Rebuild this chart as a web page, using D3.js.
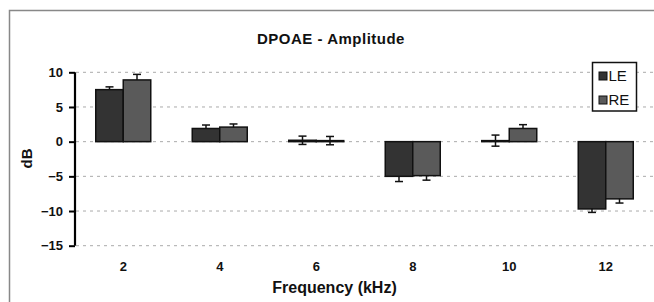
<!DOCTYPE html>
<html>
<head>
<meta charset="utf-8">
<script src="https://cdn.jsdelivr.net/npm/d3@7"></script>
<style>
  html, body { margin: 0; padding: 0; background: #fff; }
  svg { display: block; font-family: "Liberation Sans", Arial, sans-serif; }
</style>
</head>
<body>
<svg id="chart" width="654" height="302"></svg>
<script>
const categories = ["2", "4", "6", "8", "10", "12"];
const seriesNames = ["LE", "RE"];
const leValues = [7.5, 1.9, 0.2, -5.0, 0.15, -9.7];
const leErrors = [0.4, 0.5, 0.6, 0.75, 0.8, 0.5];
const reValues = [8.9, 2.1, 0.15, -4.9, 1.9, -8.25];
const reErrors = [0.8, 0.45, 0.6, 0.65, 0.55, 0.6];
const yTicks = [10, 5, 0, -5, -10, -15];

const colors = { LE: "#333333", RE: "#5a5a5a" };

const svg = d3.select("#chart");

// outer frame
svg.append("rect")
  .attr("x", 9.5).attr("y", 10.5)
  .attr("width", 700).attr("height", 400)
  .attr("fill", "none").attr("stroke", "#888").attr("stroke-width", 1.5);

const x0 = d3.scaleBand().domain(categories).range([75, 654]).paddingInner(0.43).paddingOuter(0.215);
const x1 = d3.scaleBand().domain(seriesNames).range([0, x0.bandwidth()]);
const y = d3.scaleLinear().domain([-15, 10]).range([245.7, 72.3]);

// gridlines
svg.append("g").selectAll("line").data(yTicks).join("line")
  .attr("x1", 76).attr("x2", 654)
  .attr("y1", d => y(d)).attr("y2", d => y(d))
  .attr("stroke", "#aaa").attr("stroke-width", 1)
  .attr("stroke-dasharray", "3,4");

const data = categories.map((c, i) => ({
  cat: c,
  items: [
    { s: "LE", v: leValues[i], e: leErrors[i] },
    { s: "RE", v: reValues[i], e: reErrors[i] }
  ]
}));

const groups = svg.append("g").selectAll("g").data(data).join("g")
  .attr("transform", d => `translate(${x0(d.cat)},0)`);

// error bars (behind bars)
const eb = groups.selectAll("g.err").data(d => d.items).join("g").attr("class", "err");
eb.append("line")
  .attr("x1", d => x1(d.s) + x1.bandwidth() / 2)
  .attr("x2", d => x1(d.s) + x1.bandwidth() / 2)
  .attr("y1", d => y(d.v - d.e)).attr("y2", d => y(d.v + d.e))
  .attr("stroke", "#111").attr("stroke-width", 1.5);
eb.selectAll("line.cap").data(d => [{ s: d.s, yv: d.v - d.e }, { s: d.s, yv: d.v + d.e }]).join("line")
  .attr("class", "cap")
  .attr("x1", d => x1(d.s) + x1.bandwidth() / 2 - 4)
  .attr("x2", d => x1(d.s) + x1.bandwidth() / 2 + 4)
  .attr("y1", d => y(d.yv)).attr("y2", d => y(d.yv))
  .attr("stroke", "#111").attr("stroke-width", 1.5);

// bars
groups.selectAll("rect").data(d => d.items).join("rect")
  .attr("x", d => x1(d.s))
  .attr("width", x1.bandwidth())
  .attr("y", d => Math.min(y(d.v), y(0)))
  .attr("height", d => Math.abs(y(d.v) - y(0)))
  .attr("fill", d => colors[d.s])
  .attr("stroke", "#111").attr("stroke-width", 1.5);

// y axis
const yAxis = d3.axisLeft(y).tickValues(yTicks).tickSize(6).tickPadding(6).tickFormat(d3.format("d"));
const gy = svg.append("g").attr("transform", "translate(75,0)").call(yAxis);
gy.select(".domain").attr("stroke", "#000").attr("stroke-width", 2.2).attr("d", `M0,${y(10)}V${y(-15)}`);
gy.selectAll(".tick line").attr("stroke", "#000").attr("stroke-width", 2);
gy.selectAll(".tick text").attr("font-size", 13).attr("font-weight", "bold")
  .attr("font-family", "'Liberation Sans', Arial, sans-serif").attr("fill", "#111");

// x axis labels (no axis line)
const xAxis = d3.axisBottom(x0).tickSize(0).tickPadding(0);
const gx = svg.append("g").attr("transform", "translate(0,262)").call(xAxis);
gx.select(".domain").remove();
gx.selectAll(".tick text").attr("font-size", 13).attr("font-weight", "bold")
  .attr("font-family", "'Liberation Sans', Arial, sans-serif").attr("fill", "#111");

// title
svg.append("text")
  .attr("x", 331).attr("y", 44)
  .attr("text-anchor", "middle")
  .attr("font-size", 15).attr("font-weight", "bold").attr("letter-spacing", 0.5)
  .attr("fill", "#111")
  .text("DPOAE - Amplitude");

// axis titles
svg.append("text")
  .attr("transform", "translate(32,158.5) rotate(-90)")
  .attr("text-anchor", "middle")
  .attr("font-size", 15).attr("font-weight", "bold").attr("fill", "#111")
  .text("dB");

svg.append("text")
  .attr("x", 334.5).attr("y", 292.5)
  .attr("text-anchor", "middle")
  .attr("font-size", 16).attr("font-weight", "bold").attr("fill", "#111")
  .text("Frequency (kHz)");

// legend
const lg = svg.append("g");
lg.append("rect").attr("x", 592.5).attr("y", 62.5).attr("width", 44).attr("height", 48.5)
  .attr("fill", "#fff").attr("stroke", "#111").attr("stroke-width", 1.5);
const li = lg.selectAll("g.item").data(seriesNames).join("g").attr("class", "item")
  .attr("transform", (d, i) => `translate(599,${72 + i * 24})`);
li.append("rect").attr("width", 8).attr("height", 8)
  .attr("fill", d => colors[d]).attr("stroke", "#111").attr("stroke-width", 1);
li.append("text").attr("x", 9.5).attr("y", 8.8)
  .attr("font-size", 15).attr("fill", "#111")
  .text(d => d);
</script>
</body>
</html>
